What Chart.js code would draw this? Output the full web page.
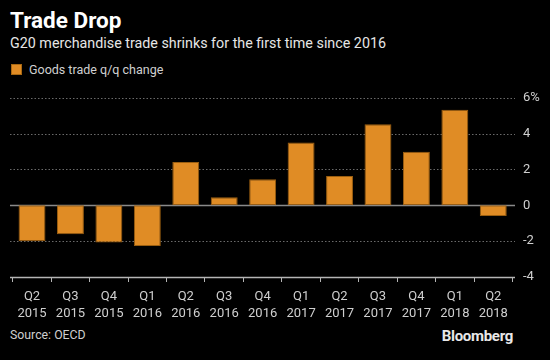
<!DOCTYPE html>
<html>
<head>
<meta charset="utf-8">
<script src="https://cdn.jsdelivr.net/npm/chart.js@4"></script>
<style>
  html, body { margin: 0; padding: 0; background: #000; }
  body { width: 550px; height: 360px; position: relative; overflow: hidden; font-family: Roboto, 'Liberation Sans', sans-serif; }
  #title { position: absolute; left: 10px; top: 7px; color: #fff; font-weight: bold; font-size: 22.5px; }
  #subtitle { position: absolute; left: 10px; top: 35px; color: #e6e6e6; font-size: 14.3px; }
  #legend { position: absolute; left: 11px; top: 62px; color: #d0d0d0; font-size: 12.5px; }
  #legend span.box { display: inline-block; width: 11px; height: 11px; background: #e08c25; border: 1px solid #a86812; box-sizing: border-box; margin-right: 7px; vertical-align: -1px; }
  #source { position: absolute; left: 10px; top: 328px; color: #cfcfcf; font-size: 12.3px; }
  #brand { position: absolute; right: 37px; top: 327px; color: #e8e8e8; font-size: 15px; font-weight: bold; letter-spacing: -0.3px; }
  #wrap { position: absolute; left: 0; top: 85px; width: 550px; height: 235px; }
</style>
</head>
<body>
<div id="title">Trade Drop</div>
<div id="subtitle">G20 merchandise trade shrinks for the first time since 2016</div>
<div id="legend"><span class="box"></span>Goods trade q/q change</div>
<div id="wrap"><canvas id="chart" width="550" height="235"></canvas></div>
<div id="source">Source: OECD</div>
<div id="brand">Bloomberg</div>
<script>
// trimestres y variación q/q (%)
const quarters = ['Q2','Q3','Q4','Q1','Q2','Q3','Q4','Q1','Q2','Q3','Q4','Q1','Q2'];
const years    = ['2015','2015','2015','2016','2016','2016','2016','2017','2017','2017','2017','2018','2018'];
const tradeChange = [-2.0, -1.62, -2.08, -2.27, 2.42, 0.45, 1.45, 3.51, 1.63, 4.52, 2.99, 5.33, -0.6];
const yTicks = [-4, -2, 0, 2, 4, 6];

// lineas de grilla a mano: punteadas, cero solida, eje inferior
const gridPlugin = {
  id: 'gridLines',
  beforeDatasetsDraw(chart) {
    const ctx = chart.ctx;
    const y = chart.scales.y;
    const x0 = 10, x1 = 515;
    ctx.save();
    yTicks.forEach(v => {
      const py = Math.round(y.getPixelForValue(v)) + 0.5;
      ctx.beginPath();
      if (v === 0) {
        ctx.setLineDash([]);
        ctx.strokeStyle = '#8a8a8a';
        ctx.lineWidth = 1.5;
      } else if (v === -4) {
        ctx.setLineDash([]);
        ctx.strokeStyle = '#b5b5b5';
        ctx.lineWidth = 1.5;
      } else {
        ctx.setLineDash([1.5, 2]);
        ctx.strokeStyle = '#6a6a6a';
        ctx.lineWidth = 1;
      }
      ctx.moveTo(x0, py);
      ctx.lineTo(x1, py);
      ctx.stroke();
    });
    ctx.restore();
  }
};

new Chart(document.getElementById('chart'), {
  type: 'bar',
  data: {
    labels: quarters.map((q, i) => [q, years[i]]),
    datasets: [{
      data: tradeChange,
      backgroundColor: '#e08c25',
      borderColor: '#9a5e10',
      borderWidth: 1,
      borderSkipped: false,
      barPercentage: 0.7,
      categoryPercentage: 1.0,
    }]
  },
  options: {
    responsive: false,
    animation: false,
    layout: { padding: { left: 12.8, top: 7.6, right: 0, bottom: 0 } },
    plugins: { legend: { display: false }, tooltip: { enabled: false } },
    scales: {
      x: {
        grid: { display: true, drawOnChartArea: false, color: '#b5b5b5', tickLength: 5, tickWidth: 1 },
        border: { display: false },
        ticks: { color: '#cfcfcf', font: { size: 13, family: 'Roboto', lineHeight: 1.32 }, padding: 6, maxRotation: 0, autoSkip: false },
        afterFit: s => { s.height = 43; }
      },
      y: {
        position: 'right',
        min: -4, max: 6,
        afterBuildTicks: s => { s.ticks = yTicks.map(v => ({ value: v })); },
        grid: { display: false, drawTicks: true, tickLength: 5.5 },
        border: { display: false },
        ticks: {
          color: '#cfcfcf',
          font: { size: 13, family: 'Roboto' },
          padding: 5,
          callback: v => v === 6 ? '6%' : String(v)
        },
        afterFit: s => { s.width = 37.5; }
      }
    }
  },
  plugins: [gridPlugin]
});
</script>
</body>
</html>
